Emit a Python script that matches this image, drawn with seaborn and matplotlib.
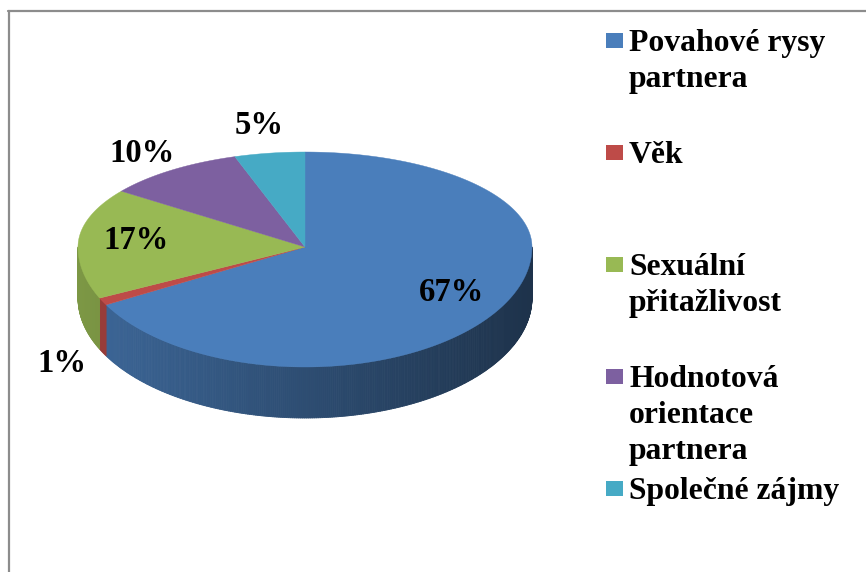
import numpy as np
import matplotlib
matplotlib.use('Agg')
import matplotlib.pyplot as plt
import seaborn as sns
from matplotlib.collections import PolyCollection
from matplotlib.patches import Rectangle
from matplotlib.lines import Line2D
from matplotlib.colors import to_rgb

# --- data ---
categories = ['Povahové rysy\npartnera', 'Věk', 'Sexuální\npřitažlivost',
              'Hodnotová\norientace\npartnera', 'Společné zájmy']
values = [67, 1, 17, 10, 5]
pct_labels = ['67%', '1%', '17%', '10%', '5%']
colors = ['#4a7ebb', '#be4b48', '#98b954', '#7d60a0', '#46aac5']

sns.set_theme(style='white')
plt.rcParams['font.family'] = ['Liberation Serif', 'DejaVu Serif']
palette = sns.color_palette(colors)

fig = plt.figure(figsize=(8.66, 5.72), dpi=100)
ax = fig.add_axes([0, 0, 1, 1])
ax.set_xlim(0, 866)
ax.set_ylim(572, 0)
ax.axis('off')

# pie geometry (pixel space), a bit of perspective: front half is taller
cx, cy = 305, 247
a, b_back, b_front = 227, 95, 120
depth = 51


def rim(t):
    t = np.asarray(t, dtype=float)
    b = np.where(np.sin(t) >= 0, b_back, b_front)
    return cx + a * np.cos(t), cy - b * np.sin(t)


def shade(x):
    # lighter on the left of the side wall, darker on the right
    return 0.82 - 0.42 * (x - (cx - a)) / (2 * a)


fracs = np.array(values) / sum(values)
edges = np.deg2rad(90 - 360 * np.concatenate([[0], np.cumsum(fracs)]))

# --- side wall (front half only) ---
quads, qcols = [], []
for i in range(len(values)):
    lo, hi = edges[i + 1], edges[i]
    lo, hi = max(lo, -np.pi), min(hi, 0)
    if hi <= lo:
        continue
    n = max(2, int(np.degrees(hi - lo) * 2))
    ts = np.linspace(lo, hi, n + 1)
    xs, ys = rim(ts)
    base = np.array(to_rgb(palette[i]))
    for k in range(n):
        quads.append([(xs[k], ys[k]), (xs[k + 1], ys[k + 1]),
                      (xs[k + 1], ys[k + 1] + depth), (xs[k], ys[k] + depth)])
        qcols.append(np.clip(base * shade((xs[k] + xs[k + 1]) / 2), 0, 1))
ax.add_collection(PolyCollection(quads, facecolors=qcols, edgecolors=qcols,
                                 linewidths=0.6, antialiased=True))

# --- top faces ---
for i in range(len(values)):
    ts = np.linspace(edges[i], edges[i + 1], 200)
    xs, ys = rim(ts)
    ax.fill(np.r_[cx, xs], np.r_[cy, ys], color=palette[i], lw=0.3,
            ec=palette[i])

# --- percentage labels ---
label_r = [0.75, 1.2, 0.75, 1.22, 1.3]
mids = (edges[:-1] + edges[1:]) / 2
for m, r, txt in zip(mids, label_r, pct_labels):
    b = b_back if np.sin(m) >= 0 else b_front
    x = cx + r * a * np.cos(m)
    y = cy - r * b * np.sin(m)
    if r > 1 and np.sin(m) < 0:
        y += depth
    ax.text(x, y, txt, ha='center', va='center', fontsize=23.5,
            fontweight='bold', color='black')

# --- legend (Excel style, fixed pitch) ---
leg_y0, leg_pitch, line_pitch = 40.5, 111.9, 36
for i, lab in enumerate(categories):
    yc = leg_y0 + i * leg_pitch
    ax.add_patch(Rectangle((606, yc - 7.5), 17, 15, color=palette[i], lw=0))
    for j, line in enumerate(lab.split('\n')):
        ax.text(629, yc + 10.5 + j * line_pitch, line, ha='left',
                va='baseline', fontsize=22.8, fontweight='bold', color='black')

# chart area border (only top and left visible in the crop)
fig.add_artist(Line2D([8 / 866, 1], [1 - 10.5 / 572] * 2, color='#8c8c8c',
                      lw=1.6, transform=fig.transFigure))
fig.add_artist(Line2D([9 / 866] * 2, [0, 1 - 10.5 / 572], color='#8c8c8c',
                      lw=1.6, transform=fig.transFigure))

fig.savefig('out.png', dpi=100, facecolor='white')
